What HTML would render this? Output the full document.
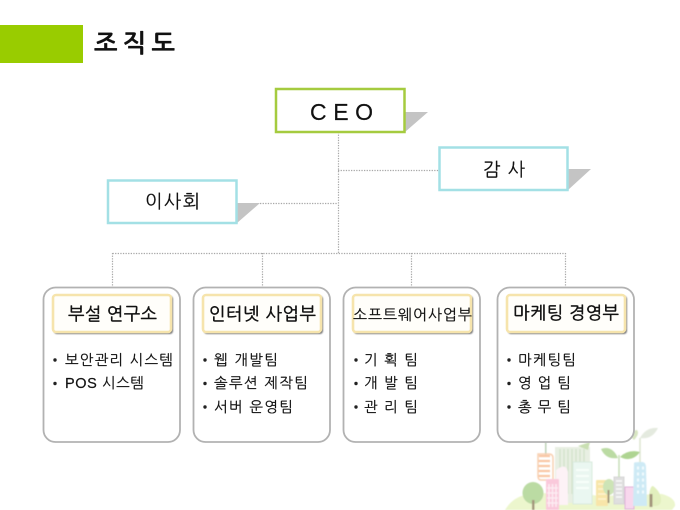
<!DOCTYPE html>
<html>
<head>
<meta charset="utf-8">
<style>
html,body{margin:0;padding:0;background:#fff;width:680px;height:510px;overflow:hidden}
svg{display:block;filter:blur(0.3px)}
text{font-family:"Liberation Sans","NanumGothic","Noto Sans CJK KR",sans-serif;fill:#111;stroke:#111;stroke-width:0.2px}
.li{font-size:14.500px}
.h{font-size:17.500px;stroke-width:0.45px}
</style>
</head>
<body>
<svg width="680" height="510" viewBox="0 0 680 510" xmlns="http://www.w3.org/2000/svg">
<defs>
<filter id="b" x="-5%" y="-5%" width="110%" height="110%"><feGaussianBlur stdDeviation="0.6"/></filter>
<filter id="s" x="-5%" y="-10%" width="110%" height="120%"><feGaussianBlur stdDeviation="0.8"/></filter>
</defs>
<!-- illustration -->
<g filter="url(#b)" opacity="0.9">
<path d="M505 510 Q512 498 525 495 Q560 490 600 496 L662 494 Q676 498 675 506 L672 510Z" fill="#eaf5c8"/>
<rect x="545" y="440" width="1.500" height="16" fill="#b5cdb0"/>
<path d="M539 456h11M538 461h12M538 466h12M538 471h12M538 476h12" stroke="#f8c09a" stroke-width="2.200"/>
<path d="M538 454h11q4 0 4 4v22h-12q-3 0-3-4z" fill="none" stroke="#f8cba9" stroke-width="1.500"/>
<rect x="555" y="447" width="35" height="56" fill="#e6eee0"/>
<path d="M560 449v45M564 449v45M568 449v45M572 449v45M576 449v45M580 449v45M584 449v45" stroke="#cfe0c8" stroke-width="1.500"/>
<path d="M590 442 L588 450 L578 446 Z" fill="#c4dcaa"/>
<path d="M556 470 Q566 462 568 472 V505 H556Z" fill="#fdf1f5"/>
<rect x="573" y="462" width="19" height="42" fill="#e8f7f0" stroke="#d5e8da"/>
<path d="M576 470h13M576 476h13M576 482h13M576 488h13" stroke="#f8fffa" stroke-width="2"/>
<ellipse cx="533" cy="493" rx="10.500" ry="11" fill="#b4d79a"/>
<rect x="532" y="500" width="2.500" height="10" fill="#9b8c70"/>
<rect x="546" y="479" width="13" height="31" rx="1" fill="#fac4d8"/>
<path d="M549 484v23M552.500 484v23M556 484v23" stroke="#fdeaf1" stroke-width="1.500"/>
<path d="M547 488h11M547 493h11M547 498h11M547 503h11" stroke="#fdeaf1" stroke-width="1.500"/>
<rect x="596" y="480" width="12" height="26" rx="1" fill="#f8e3a0"/>
<path d="M598 484h8M598 489h8M598 494h8M598 499h8" stroke="#fdf3cc" stroke-width="1.500"/>
<ellipse cx="609" cy="487" rx="6" ry="8" fill="#c8e1ae"/>
<rect x="607.500" y="490" width="2" height="13" fill="#9b8c70"/>
<rect x="614" y="477" width="10" height="27" fill="#dcdcdc" stroke="#d2d2d2"/>
<path d="M616 481h6M616 485h6M616 489h6M616 493h6M616 497h6" stroke="#fafafa" stroke-width="1.500"/>
<rect x="625" y="487" width="9" height="22" fill="#f8d3ec" stroke="#dda8d4"/>
<path d="M619 477V455" stroke="#c2dbb0" stroke-width="1.500"/>
<path d="M640 464V438" stroke="#d8e3ca" stroke-width="1.500"/>
<path d="M601 449 Q612 445 618 458 Q606 460 601 449Z" fill="#b4d79a"/>
<path d="M620 457 Q628 449 640 452 Q632 463 620 457Z" fill="#a6d086"/>
<path d="M640 438 Q646 427 658 428 Q652 440 640 438Z" fill="#e2e8dc"/>
<path d="M630 436 Q633 430 637 430 Q640 434 634 440Z" fill="#d4e3bc"/>
<path d="M634 463 Q634 462 642 462 Q646 462 646 468 L647 506 H633Z" fill="#c9e8f4"/>
<path d="M637 468h2M642 468h2M637 474h2M642 474h2M637 480h2M642 480h2M637 486h2M642 486h2M637 492h2M642 492h2" stroke="#f0fbff" stroke-width="3"/>
<path d="M649 506 V496 Q650 486 653 486 Q661 492 661 500 Q661 506 655 506Z" fill="#dfeeb6"/>
<rect x="649.500" y="494" width="3" height="13" fill="#9b8c70"/>
</g>

<!-- header -->
<rect x="0" y="25" width="83" height="38" fill="#99cc00"/>
<text x="94" y="52" font-size="25" font-weight="bold" textLength="81" lengthAdjust="spacing">조 직 도</text>

<!-- connectors -->
<g fill="none" stroke="#a8a8a8" stroke-width="1.200" stroke-dasharray="1.300 1.300">
<path d="M338.500 132V253.500"/>
<path d="M338 170.500H439"/>
<path d="M260 203.500H338"/>
<path d="M112.500 253.500H565.500"/>
<path d="M112.500 253V287M262.500 253V287M411.500 253V287M565.500 253V287"/>
</g>

<!-- top boxes -->
<polygon points="405,112 428,112 405,132" fill="#c4c4c4"/>
<rect x="276" y="89" width="128.500" height="43" fill="#fff" stroke="#a5cb3f" stroke-width="2.500"/>
<text x="310" y="120" font-size="23" textLength="63" lengthAdjust="spacing">C E O</text>

<polygon points="568,169 591,169 568,190" fill="#c4c4c4"/>
<rect x="439.500" y="147.500" width="128" height="42.500" fill="#fff" stroke="#a3e0e5" stroke-width="2.500"/>
<text x="483" y="176" font-size="18.500" textLength="42" lengthAdjust="spacing">감 사</text>

<polygon points="237,203 260,203 237,223" fill="#c4c4c4"/>
<rect x="108" y="180.500" width="128.500" height="42.500" fill="#fff" stroke="#a3e0e5" stroke-width="2.500"/>
<text x="145" y="208" font-size="18.500" textLength="55" lengthAdjust="spacing">이사회</text>

<!-- panels -->
<g fill="#fff" stroke="#b2b2b2" stroke-width="1.800">
<rect x="43.500" y="287.500" width="136.500" height="154.500" rx="12"/>
<rect x="193.500" y="287.500" width="136.500" height="154.500" rx="12"/>
<rect x="343.500" y="287.500" width="136.500" height="154.500" rx="12"/>
<rect x="497.500" y="287.500" width="136.500" height="154.500" rx="12"/>
</g>

<!-- panel header boxes -->
<g fill="#777" filter="url(#s)">
<rect x="54" y="296" width="119" height="38" rx="3"/>
<rect x="204" y="296" width="119" height="38" rx="3"/>
<rect x="354" y="296" width="119" height="38" rx="3"/>
<rect x="508" y="296" width="119" height="38" rx="3"/>
</g>
<g fill="#fffefa" stroke="#f6e4ac" stroke-width="2.600">
<rect x="53" y="295" width="118" height="37" rx="3"/>
<rect x="203" y="295" width="118" height="37" rx="3"/>
<rect x="353" y="295" width="118" height="37" rx="3"/>
<rect x="507" y="295" width="118" height="37" rx="3"/>
</g>
<text class="h" x="68" y="320" textLength="89" lengthAdjust="spacing">부설 연구소</text>
<text class="h" x="209" y="320" textLength="107" lengthAdjust="spacing">인터넷 사업부</text>
<text x="353" y="320" font-size="15" textLength="119" lengthAdjust="spacing">소프트웨어사업부</text>
<text class="h" x="513" y="319" textLength="106" lengthAdjust="spacing">마케팅 경영부</text>

<!-- bullets -->
<g fill="#222">
<circle cx="55" cy="360" r="1.700"/><circle cx="55" cy="383.500" r="1.700"/>
<circle cx="205" cy="360" r="1.700"/><circle cx="205" cy="383.500" r="1.700"/><circle cx="205" cy="407" r="1.700"/>
<circle cx="356" cy="360" r="1.700"/><circle cx="356" cy="383.500" r="1.700"/><circle cx="356" cy="407" r="1.700"/>
<circle cx="509" cy="360" r="1.700"/><circle cx="509" cy="383.500" r="1.700"/><circle cx="509" cy="407" r="1.700"/>
</g>

<!-- list text -->
<text class="li" x="65" y="365" textLength="108" lengthAdjust="spacing">보안관리 시스템</text>
<text class="li" x="65" y="388" textLength="79" lengthAdjust="spacing">POS 시스템</text>

<text class="li" x="214" y="365" textLength="64" lengthAdjust="spacing">웹 개발팀</text>
<text class="li" x="214" y="388" textLength="94" lengthAdjust="spacing">솔루션 제작팀</text>
<text class="li" x="214" y="412" textLength="79" lengthAdjust="spacing">서버 운영팀</text>

<text class="li" x="364" y="365" textLength="54" lengthAdjust="spacing">기 획 팀</text>
<text class="li" x="364" y="388" textLength="54" lengthAdjust="spacing">개 발 팀</text>
<text class="li" x="364" y="412" textLength="54" lengthAdjust="spacing">관 리 팀</text>

<text class="li" x="518" y="365" textLength="58" lengthAdjust="spacing">마케팅팀</text>
<text class="li" x="518" y="388" textLength="53" lengthAdjust="spacing">영 업 팀</text>
<text class="li" x="518" y="412" textLength="53" lengthAdjust="spacing">총 무 팀</text>
</svg>
</body>
</html>
